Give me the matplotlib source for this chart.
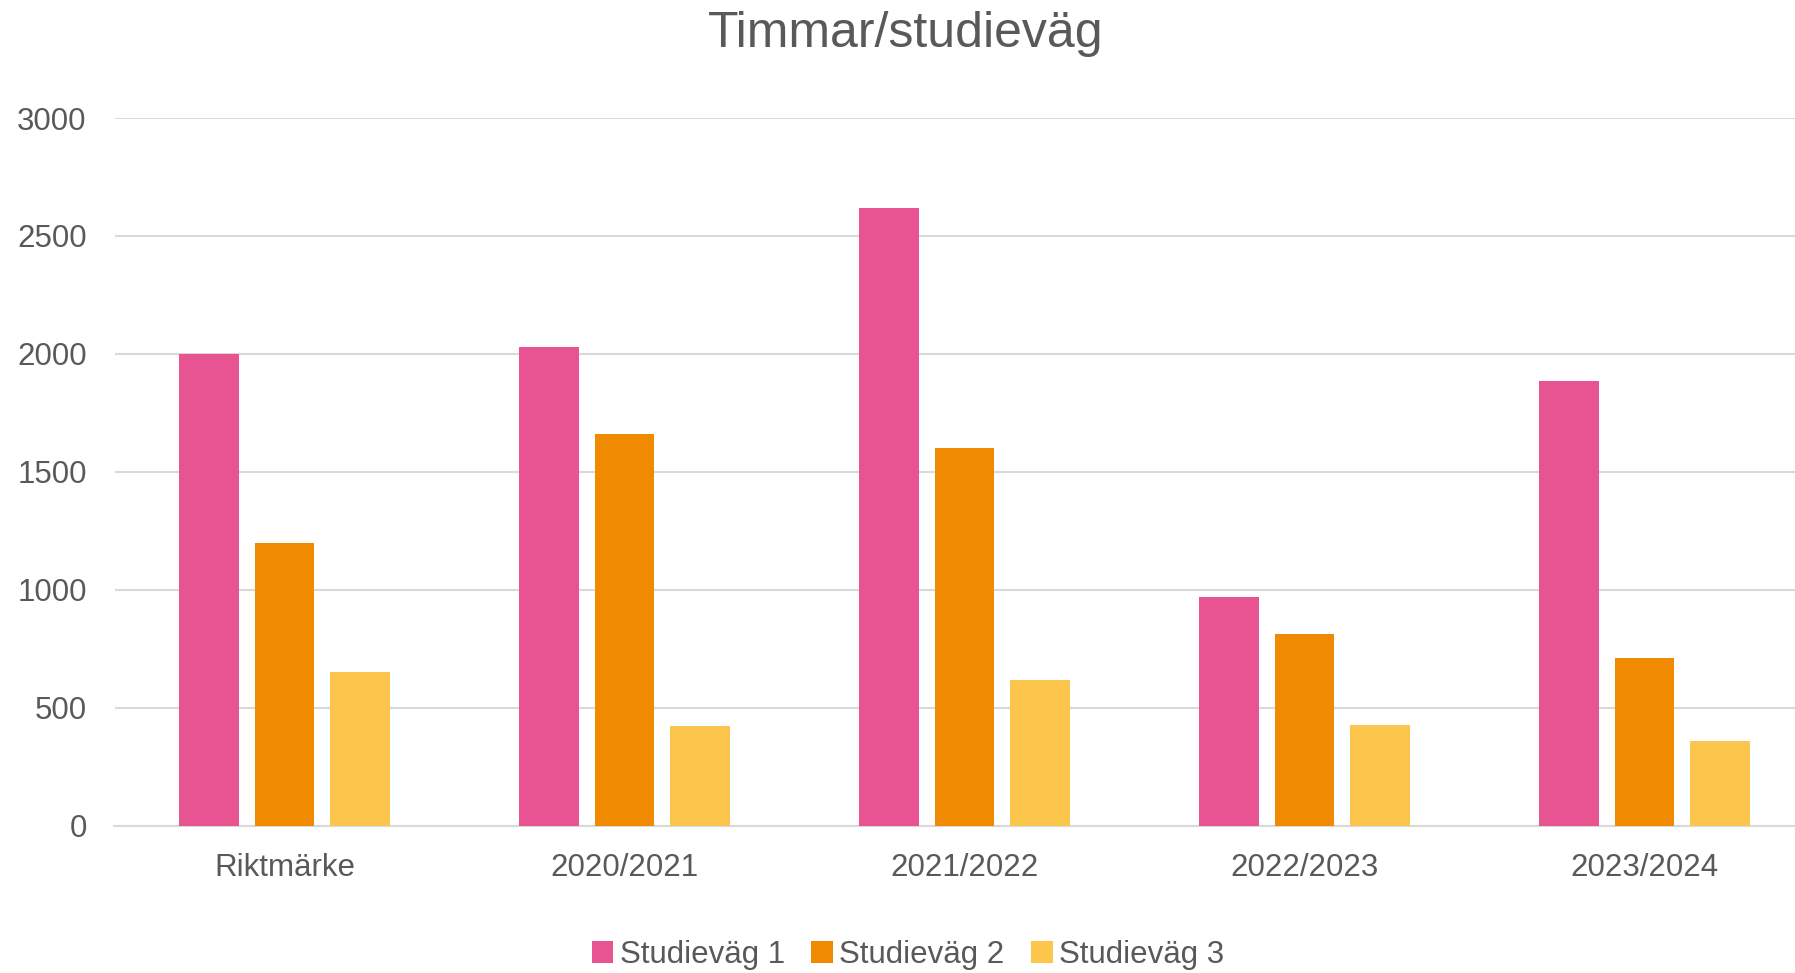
import matplotlib
matplotlib.use("Agg")
import matplotlib.pyplot as plt
import numpy as np

categories = ["Riktmärke", "2020/2021", "2021/2022", "2022/2023", "2023/2024"]
series_names = ["Studieväg 1", "Studieväg 2", "Studieväg 3"]
studievag1 = [2000, 2030, 2620, 970, 1885]
studievag2 = [1200, 1660, 1600, 810, 710]
studievag3 = [650, 420, 615, 425, 360]
yticks = [0, 500, 1000, 1500, 2000, 2500, 3000]

colors = ["#E85391", "#F08A00", "#FBC64B"]
text_color = "#595959"
grid_color = "#D9D9D9"

plt.rcParams['font.family'] = ['Liberation Sans', 'DejaVu Sans']

fig = plt.figure(figsize=(17.95, 9.73), dpi=100)
ax = fig.add_axes([114.5 / 1795, 1 - 825.5 / 973, 1700 / 1795, 707.5 / 973])

x = np.arange(len(categories))
width = 0.175
step = 0.222
for i, (vals, name, c) in enumerate(zip([studievag1, studievag2, studievag3], series_names, colors)):
    ax.bar(x + (i - 1) * step, vals, width=width, color=c, label=name, zorder=3)

ax.set_xlim(-0.5, 4.5)
ax.set_ylim(0, 3000)
ax.set_yticks(yticks)
ax.set_yticklabels([str(t) for t in yticks])
ax.set_xticks(x)
ax.set_xticklabels(categories)
ax.yaxis.grid(True, color=grid_color, linewidth=1.5, zorder=0)
ax.set_axisbelow(True)
for s in ["top", "right", "left"]:
    ax.spines[s].set_visible(False)
ax.spines["bottom"].set_color(grid_color)
ax.spines["bottom"].set_linewidth(1.5)
ax.tick_params(axis="both", length=0, labelsize=22.5, labelcolor=text_color)
ax.tick_params(axis="y", pad=20)
ax.tick_params(axis="x", pad=20)

fig.text(906 / 1795, 1 - 34 / 973, "Timmar/studieväg", ha="center", va="center",
         fontsize=36, color=text_color)

leg = fig.legend(loc="center", bbox_to_anchor=(908 / 1795, 1 - 955 / 973), ncol=3,
                 frameon=False, fontsize=22.5, handlelength=0.7, handleheight=0.7,
                 handletextpad=0.2, columnspacing=0.85)
for t in leg.get_texts():
    t.set_color(text_color)

fig.savefig("out.png", dpi=100)
